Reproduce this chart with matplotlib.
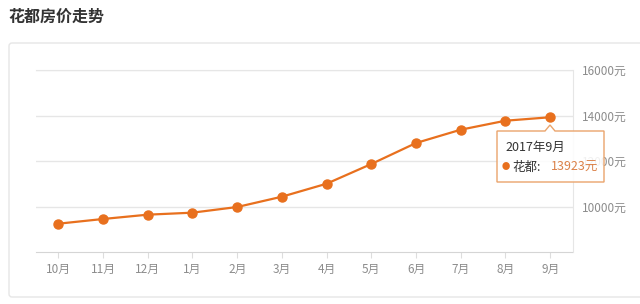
import matplotlib
matplotlib.use("Agg")
import matplotlib.pyplot as plt
from matplotlib.patches import FancyBboxPatch, Polygon
from matplotlib.transforms import Affine2D

plt.rcParams['font.family'] = ['Noto Sans CJK SC', 'DejaVu Sans']

months = ['10月', '11月', '12月', '1月', '2月', '3月', '4月', '5月', '6月', '7月', '8月', '9月']
prices = [9244, 9451, 9641, 9729, 9978, 10431, 11002, 11868, 12791, 13376, 13771, 13923]
yticks = [10000, 12000, 14000, 16000]
ytick_labels = ['10000元', '12000元', '14000元', '16000元']
title = '花都房价走势'
tip_title = '2017年9月'
tip_series = '花都:'
tip_value = '13923元'

W, H = 640, 304
fig = plt.figure(figsize=(W / 100, H / 100), dpi=100)
fig.patch.set_facecolor('white')
px = Affine2D().scale(1 / W, -1 / H).translate(0, 1) + fig.transFigure

# outer card
card = FancyBboxPatch((9, 43), 640, 254, boxstyle='round,pad=0,rounding_size=3',
                      transform=px, facecolor='white', edgecolor='#e6e6e6', lw=1,
                      zorder=-5)
fig.add_artist(card)

fig.text(8 / W, 1 - 17 / H, title, fontsize=11.5, fontweight='bold', color='#333333',
         va='center', ha='left')

ax = fig.add_axes([36 / W, (H - 252) / H, (572.5 - 36) / W, (252 - 70) / H])
ax.set_zorder(1)
ax.set_facecolor('none')
x = list(range(len(months)))
ax.plot(x, prices, color='#e8701e', lw=1.6, marker='o', markersize=6.5,
        markerfacecolor='#e8701e', markeredgecolor='#e8701e', zorder=3)
ax.set_xlim(-0.5, len(months) - 0.5)
ax.set_ylim(8000, 16000)
ax.set_xticks(x)
ax.set_xticklabels(months)
ax.set_yticks(yticks)
ax.set_yticklabels(ytick_labels)
ax.yaxis.tick_right()
ax.tick_params(axis='y', length=0, pad=7, labelsize=8.5, labelcolor='#8c8c8c')
ax.tick_params(axis='x', length=4, color='#dddddd', pad=4, labelsize=8.5, labelcolor='#8c8c8c')
ax.grid(axis='y', color='#e6e6e6', lw=1)
ax.set_axisbelow(True)
ax.spines['left'].set_visible(False)
ax.spines['top'].set_color('#e6e6e6')
ax.spines['right'].set_color('#e6e6e6')
ax.spines['bottom'].set_color('#d5d5d5')

# tooltip
pts = [(497, 131), (545, 131), (550, 125), (555, 131), (604, 131), (604, 182), (497, 182)]
tip = Polygon(pts, closed=True, transform=px, facecolor='white', alpha=0.88,
              edgecolor='none', zorder=10)
fig.add_artist(tip)
tip_edge = Polygon(pts, closed=True, transform=px, facecolor='none',
                   edgecolor='#eaa46c', lw=1, zorder=11)
fig.add_artist(tip_edge)
fig.text(505 / W, 1 - 147.5 / H, tip_title, fontsize=9, color='#333333', va='center',
         ha='left', zorder=12)
fig.text(506 / W, 1 - 167 / H, '●', fontsize=6, color='#e8701e', va='center',
         ha='center', zorder=12)
fig.text(512 / W, 1 - 167 / H, tip_series, fontsize=9, color='#333333', va='center',
         ha='left', zorder=12)
fig.text(550.5 / W, 1 - 167 / H, tip_value, fontsize=9, color='#db8148', va='center',
         ha='left', zorder=12)

fig.savefig('out.png', dpi=100, facecolor='white')
